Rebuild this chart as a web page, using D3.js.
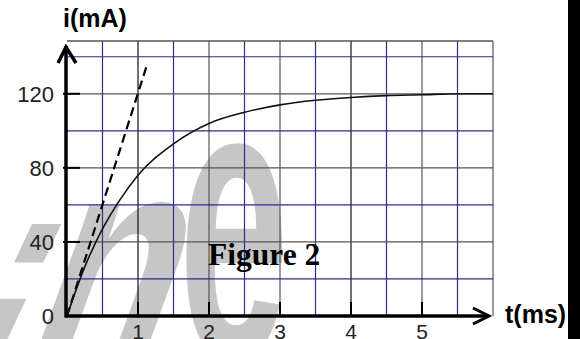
<!DOCTYPE html>
<html>
<head>
<meta charset="utf-8">
<script src="https://cdn.jsdelivr.net/npm/d3@7"></script>
<style>
    html, body { margin: 0; padding: 0; background: #fff; }
    svg { display: block; }
</style>
</head>
<body>
<svg width="580" height="339"></svg>
<script>
// Values.
var times = [0, 0.25, 0.5, 0.75, 1, 1.5, 2, 2.5, 3, 3.5, 4, 4.5, 5, 5.5, 6];
var currents = [0, 26.5, 47, 63, 76, 93, 104, 110, 114, 116.5, 118, 119, 119.5, 120, 120];
var tangentTimes = [0, 1.13];
var tangentCurrents = [0, 136];
var xTicks = [1, 2, 3, 4, 5];
var yTicks = [0, 40, 80, 120];
var xGrid = [0.5, 1, 1.5, 2, 2.5, 3, 3.5, 4, 4.5, 5, 5.5, 6];
var yGrid = [20, 40, 60, 80, 100, 120, 140];

var svg = d3.select("svg");

var x = d3.scaleLinear().domain([0, 6]).range([67, 493]);
var y = d3.scaleLinear().domain([0, 148.5]).range([316, 41]);

// Watermark behind everything. Each letter is stretched on its own,
// the scan bent them differently.
var mark = [
    {ch: "i", tx: -82, ty: 500, sx: 0.71, sy: 1.27, skew: 25},
    {ch: "n", tx: 84, ty: 370, sx: 0.76, sy: 1.04, skew: 20},
    {ch: "e", tx: 232, ty: 358, sx: 0.66, sy: 1.33, skew: 1}
];
svg.append("g").selectAll("text")
    .data(mark)
    .enter().append("text")
    .attr("transform", function(d) {
        return "translate(" + d.tx + "," + d.ty + ") skewX(" + (-d.skew) + ") scale(" + d.sx + "," + d.sy + ")";
    })
    .attr("text-anchor", "middle")
    .attr("font-family", "Liberation Sans")
    .attr("font-weight", "bold")
    .attr("font-size", 300)
    .attr("fill", "#c6c6c6")
    .text(function(d) { return d.ch; });

// Grid: blue on half units, dark gray on whole units.
var blue = "#2b2b90";
var gray = "#555";
svg.append("g").selectAll("line")
    .data(xGrid)
    .enter().append("line")
    .attr("x1", function(d) { return x(d); })
    .attr("x2", function(d) { return x(d); })
    .attr("y1", y(148.5))
    .attr("y2", y(0))
    .attr("stroke", function(d) {
        if (d % 1 != 0) return blue;
        return (d == 1 || d == 4) ? "#111" : gray;
    })
    .attr("stroke-width", 1.2);

svg.append("g").selectAll("line")
    .data(yGrid)
    .enter().append("line")
    .attr("x1", x(0))
    .attr("x2", x(6))
    .attr("y1", function(d) { return y(d); })
    .attr("y2", function(d) { return y(d); })
    .attr("stroke", function(d) { return d % 40 == 0 ? gray : blue; })
    .attr("stroke-width", 1.2);

// Top border of the grid.
svg.append("line")
    .attr("x1", x(0)).attr("x2", x(6))
    .attr("y1", y(148.5)).attr("y2", y(148.5))
    .attr("stroke", gray).attr("stroke-width", 1.5);

// Tangent at the origin.
var tangent = d3.line()
    .x(function(d, i) { return x(tangentTimes[i]); })
    .y(function(d, i) { return y(tangentCurrents[i]); });
svg.append("path")
    .attr("d", tangent(tangentTimes))
    .attr("fill", "none")
    .attr("stroke", "#000")
    .attr("stroke-width", 2.2)
    .attr("stroke-dasharray", "9,5");

// Current curve.
var curve = d3.line()
    .x(function(d, i) { return x(times[i]); })
    .y(function(d, i) { return y(currents[i]); })
    .curve(d3.curveMonotoneX);
svg.append("path")
    .attr("d", curve(times))
    .attr("fill", "none")
    .attr("stroke", "#111")
    .attr("stroke-width", 1.6);

// Axes with arrows.
svg.append("line")
    .attr("x1", x(0) - 1).attr("x2", x(0) - 1)
    .attr("y1", y(0) + 1.5).attr("y2", 46)
    .attr("stroke", "#000").attr("stroke-width", 3.5);
svg.append("path")
    .attr("d", "M58,63L66,47L76,63")
    .attr("fill", "none").attr("stroke", "#000").attr("stroke-width", 3.5);

svg.append("line")
    .attr("x1", x(0) - 2).attr("x2", 489)
    .attr("y1", y(0)).attr("y2", y(0))
    .attr("stroke", "#000").attr("stroke-width", 3.5);
svg.append("path")
    .attr("d", "M473,308L489,316L473,324")
    .attr("fill", "none").attr("stroke", "#000").attr("stroke-width", 3);

// Tick marks.
svg.append("g").selectAll("line")
    .data(yTicks.filter(function(d) { return d > 0; }))
    .enter().append("line")
    .attr("x1", 63).attr("x2", 80)
    .attr("y1", function(d) { return y(d); })
    .attr("y2", function(d) { return y(d); })
    .attr("stroke", "#000").attr("stroke-width", 2);

svg.append("g").selectAll("line")
    .data(xTicks)
    .enter().append("line")
    .attr("x1", function(d) { return x(d); })
    .attr("x2", function(d) { return x(d); })
    .attr("y1", y(0)).attr("y2", y(0) - 14)
    .attr("stroke", "#000").attr("stroke-width", 2);

// Tick labels.
svg.append("g").selectAll("text")
    .data(yTicks)
    .enter().append("text")
    .attr("x", 54)
    .attr("y", function(d) { return y(d) + 8; })
    .attr("text-anchor", "end")
    .attr("font-family", "Liberation Sans")
    .attr("font-size", 22)
    .attr("fill", "#222")
    .text(function(d) { return d; });

svg.append("g").selectAll("text")
    .data(xTicks)
    .enter().append("text")
    .attr("x", function(d) { return x(d); })
    .attr("y", 339)
    .attr("text-anchor", "middle")
    .attr("font-family", "Liberation Sans")
    .attr("font-size", 21)
    .attr("fill", "#222")
    .text(function(d) { return d; });

// Axis titles.
svg.append("text")
    .attr("x", 63).attr("y", 27)
    .attr("font-family", "Liberation Sans")
    .attr("font-weight", "bold")
    .attr("font-size", 25)
    .text("i(mA)");

svg.append("text")
    .attr("x", 505).attr("y", 323)
    .attr("font-family", "Liberation Sans")
    .attr("font-weight", "bold")
    .attr("font-size", 25)
    .text("t(ms)");

svg.append("text")
    .attr("x", 208).attr("y", 265)
    .attr("font-family", "Liberation Serif")
    .attr("font-weight", "bold")
    .attr("font-size", 31.5)
    .text("Figure 2");

// Black bar on the right edge.
svg.append("rect")
    .attr("x", 568).attr("y", 0)
    .attr("width", 12).attr("height", 339)
    .attr("fill", "#000");
</script>
</body>
</html>
